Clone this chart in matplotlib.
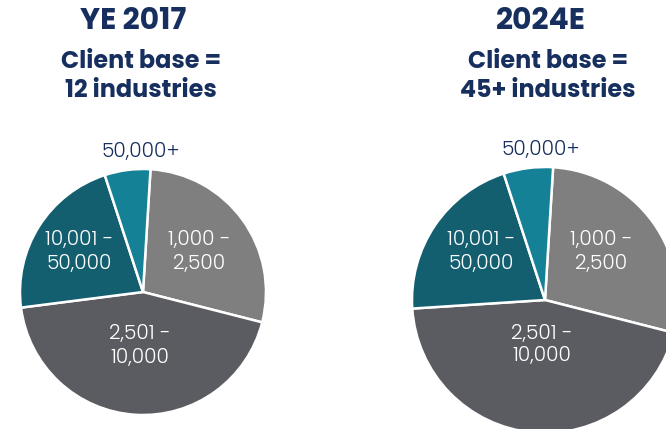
import matplotlib
matplotlib.use("Agg")
import matplotlib.pyplot as plt

# Client size buckets (employees) and share of client base per period
buckets = ["1,000 -\n2,500", "2,501 -\n10,000", "10,001 -\n50,000", "50,000+"]
share_2017 = [28, 44, 22, 6]
share_2024 = [28, 45, 21, 6]
titles = ["YE 2017", "2024E"]
subtitles = ["Client base =\n12 industries", "Client base =\n45+ industries"]

colors = ["#7f7f7f", "#5b5c61", "#135f70", "#158196"]
navy = "#172f5e"

W, H = 666, 429
fig = plt.figure(figsize=(W / 100, H / 100), dpi=100)
fig.patch.set_facecolor("white")


def make_axes(cx, cy, r):
    # axes box in pixel terms, pie of radius 1 fills it
    ax = fig.add_axes([(cx - r) / W, (H - cy - r) / H, 2 * r / W, 2 * r / H])
    ax.axis("off")
    return ax


def to_data(px, py, cx, cy, r):
    return (px - cx) / r, (cy - py) / r


pies = [
    # cx, cy, r, label pixel positions, title x, subtitle x
    (143, 292, 123, [(199, 252), (140, 346), (79, 252), (141, 152)], 133, 141),
    (545, 300, 133, [(601, 252), (542, 345), (481, 252), (541, 150)], 541, 548),
]

fam = ["Poppins", "Inter", "DejaVu Sans"]
label_font = dict(family=fam, fontweight=300, fontsize=14.5)

for (cx, cy, r, label_pos, tx, sx), shares, title, sub in zip(pies, [share_2017, share_2024], titles, subtitles):
    ax = make_axes(cx, cy, r)
    ax.pie(shares, colors=colors, startangle=86.5, counterclock=False, radius=1,
           wedgeprops=dict(edgecolor="white", linewidth=1.8))
    # pie() resets the limits, so fix them afterwards
    ax.set_xlim(-1, 1)
    ax.set_ylim(-1, 1)
    ax.set_aspect("equal")
    for i, (lab, (px, py)) in enumerate(zip(buckets, label_pos)):
        x, y = to_data(px, py, cx, cy, r)
        col = navy if i == 3 else "white"
        ax.text(x, y, lab, ha="center", va="center", color=col, linespacing=1.2,
                clip_on=False, **label_font)
    fig.text(tx / W, 1 - 22 / H, title, ha="center", va="center", color=navy,
             fontsize=21.5, fontweight="bold", family=fam)
    fig.text(sx / W, 1 - 77 / H, sub, ha="center", va="center", color=navy,
             fontsize=17.2, fontweight="bold", linespacing=1.2, family=fam)

fig.savefig("out.png", dpi=100, facecolor="white")
